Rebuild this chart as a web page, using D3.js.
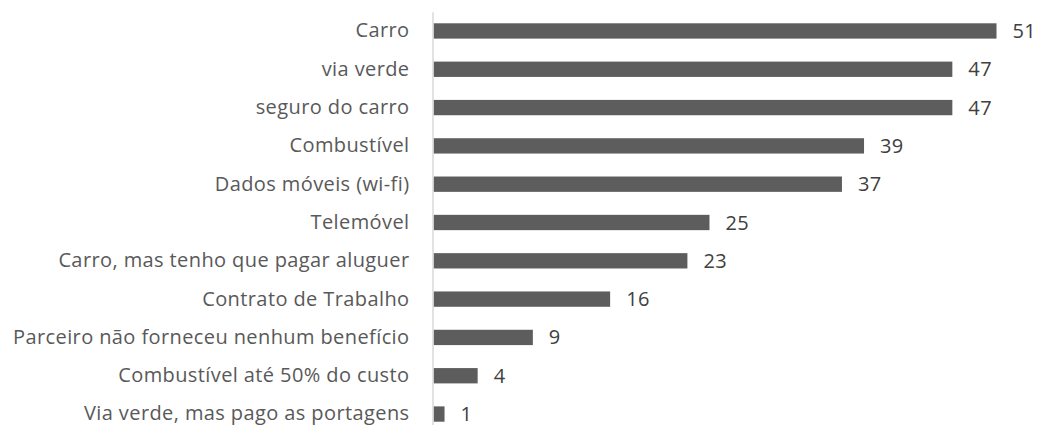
<!DOCTYPE html>
<html>
<head>
<meta charset="utf-8">
<script src="https://cdn.jsdelivr.net/npm/d3@7"></script>
<style>
  html, body { margin: 0; padding: 0; background: #ffffff; }
  svg { display: block; }
  text { font-family: "Open Sans", sans-serif; font-variant-ligatures: none; }
</style>
</head>
<body>
<svg id="chart" width="1038" height="425"></svg>
<script>
const categories = [
  "Carro",
  "via verde",
  "seguro do carro",
  "Combustível",
  "Dados móveis (wi-fi)",
  "Telemóvel",
  "Carro, mas tenho que pagar aluguer",
  "Contrato de Trabalho",
  "Parceiro não forneceu nenhum benefício",
  "Combustível até 50% do custo",
  "Via verde, mas pago as portagens"
];
const values = [51, 47, 47, 39, 37, 25, 23, 16, 9, 4, 1];

const svg = d3.select("#chart");
const x0 = 433.5;
const x = d3.scaleLinear().domain([0, 51]).range([x0, 996.5]);
const y = d3.scaleBand().domain(categories).range([11.8, 433.2]).paddingInner(0.6).paddingOuter(0.3);

// bars
svg.append("g").selectAll("rect").data(values).join("rect")
  .attr("x", x(0))
  .attr("y", (d, i) => y(categories[i]))
  .attr("width", d => x(d) - x(0))
  .attr("height", y.bandwidth())
  .attr("fill", "#5d5d5d");

// axis line
const axis = d3.axisLeft(y).tickSize(0).tickPadding(23);
const ga = svg.append("g").attr("transform", `translate(${x0 - 1},0)`).call(axis);
ga.select(".domain").attr("stroke", "#d9d9d9").attr("stroke-width", 1.5);
ga.selectAll(".tick text")
  .attr("fill", "#595959")
  .style("font-size", "20px")
  .style("letter-spacing", "0.4px")
  .style("font-family", "'Open Sans', sans-serif");

// value labels
svg.append("g").selectAll("text").data(values).join("text")
  .attr("x", d => x(d) + 16)
  .attr("y", (d, i) => y(categories[i]) + y.bandwidth() / 2)
  .attr("dy", "0.35em")
  .attr("fill", "#404040")
  .style("font-size", "20px")
  .style("letter-spacing", "0.4px")
  .text(d => d);
</script>
</body>
</html>
